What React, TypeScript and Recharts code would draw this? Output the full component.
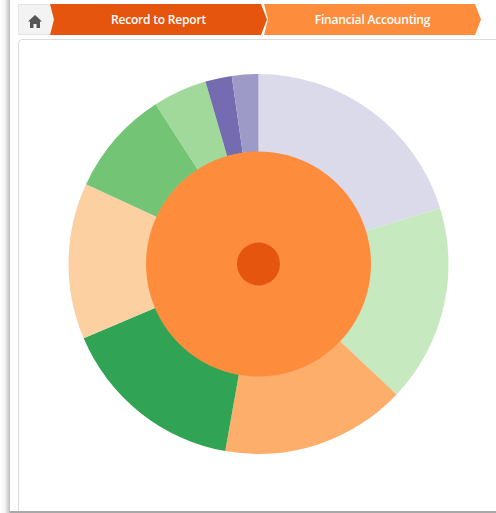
import React from "react";
import { PieChart, Pie, Cell } from "recharts";

const breadcrumbs = ["Record to Report", "Financial Accounting"];
const breadcrumbColors = ["#E6550D", "#FD8D3C"];
const outerValues = [20.25, 16.8, 15.75, 15.8, 13.3, 9.0, 4.6, 2.25, 2.25];
const outerColors = ["#DADAEB", "#C7E9C0", "#FDAE6B", "#31A354", "#FDD0A2", "#74C476", "#A1D99B", "#756BB1", "#9E9AC8"];
const outerData = outerValues.map((value, i) => ({ name: `s${i}`, value }));
const middleData = [{ name: "Financial Accounting", value: 100 }];
const coreData = [{ name: "Record to Report", value: 100 }];

const abs = (s: React.CSSProperties): React.CSSProperties => ({ position: "absolute", ...s });

export default function App() {
  return (
    <div style={abs({ left: 0, top: 0, width: 496, height: 513, overflow: "hidden", background: "#fff", fontFamily: "'Open Sans', sans-serif" })}>
      {/* page shadow */}
      <div style={abs({ left: 0, top: 0, width: 10, height: 513, background: "linear-gradient(to right, #fff 0%, #f4f4f4 50%, #bdbdbd 100%)" })} />
      {/* home crumb */}
      <div style={abs({ left: 18, top: 4, width: 36, height: 31, background: "#f3f3f3", boxSizing: "border-box", border: "1px solid #e4e4e4" })} />
      <svg width={14} height={13} viewBox="0 0 14 13" style={abs({ left: 28, top: 15 })}>
        <path d="M7 0 L14 6.5 L12 6.5 L12 13 L8.5 13 L8.5 9 L5.5 9 L5.5 13 L2 13 L2 6.5 L0 6.5 Z" fill="#555" />
      </svg>
      {breadcrumbs.map((label, i) => (
        <div
          key={label}
          style={abs({
            left: i === 0 ? 50 : 264,
            top: 4,
            width: 217,
            height: 31,
            background: breadcrumbColors[i],
            clipPath: "polygon(0 0, 211px 0, 217px 50%, 211px 100%, 0 100%, 4px 50%)",
            color: "#fff",
            fontSize: 12,
            fontWeight: 600,
            lineHeight: "31px",
            textAlign: "center",
            letterSpacing: -0.2,
          })}
        >
          <span style={abs({ left: 0, width: "100%", top: 0 })}>{label}</span>
        </div>
      ))}
      {/* panel */}
      <div style={abs({ left: 18, top: 39, width: 490, height: 480, boxSizing: "border-box", border: "1px solid #dcdcdc", borderRadius: 4, background: "#fff" })} />
      <div style={abs({ left: 0, top: 0 })}>
        <PieChart width={496} height={512} margin={{ top: 0, right: 0, bottom: 0, left: 0 }}>
          <Pie data={outerData} dataKey="value" cx={258.5} cy={264} innerRadius={112} outerRadius={190} startAngle={90} endAngle={-270} stroke="none" paddingAngle={0} isAnimationActive={false}>
            {outerData.map((d, i) => (
              <Cell key={d.name} fill={outerColors[i]} stroke="none" />
            ))}
          </Pie>
          <Pie data={middleData} dataKey="value" cx={258.5} cy={264} innerRadius={21} outerRadius={112.5} startAngle={90} endAngle={-270} stroke="none" fill="#FD8D3C" isAnimationActive={false} />
          <Pie data={coreData} dataKey="value" cx={258.5} cy={264} innerRadius={0} outerRadius={21.5} startAngle={90} endAngle={-270} stroke="none" fill="#E6550D" isAnimationActive={false} />
        </PieChart>
      </div>
      {/* bottom edge */}
      <div style={abs({ left: 10, top: 511, width: 486, height: 2, background: "#a8a8a8", zIndex: 5 })} />
    </div>
  );
}
